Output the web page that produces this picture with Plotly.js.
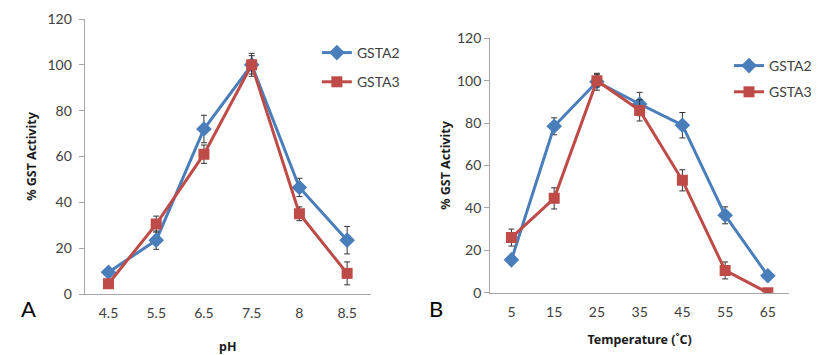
<!DOCTYPE html>
<html>
<head>
<meta charset="utf-8">
<script src="https://cdn.plot.ly/plotly-3.0.1.min.js"></script>
<style>html,body{margin:0;padding:0;background:#fff;}#chart{width:817px;height:355px;}</style>
</head>
<body>
<div id="chart"></div>
<script>
// Panel A: pH
const phLabels = ['4.5', '5.5', '6.5', '7.5', '8', '8.5'];
const phGSTA2 = [9.5, 23.5, 72, 100, 46.5, 23.5];
const phGSTA2Err = [1, 4, 6, 5, 4, 6];
const phGSTA3 = [4.5, 30.5, 61, 100, 35, 9];
const phGSTA3Err = [1, 3.5, 4, 4, 3, 5];

// Panel B: Temperature
const tempLabels = ['5', '15', '25', '35', '45', '55', '65'];
const tGSTA2 = [15.5, 78.5, 99.5, 89, 79, 36.5, 8];
const tGSTA2Err = [1, 4, 4, 5.5, 6, 4, 1];
const tGSTA3 = [26, 44.5, 100, 86, 53, 10.5, 0];
const tGSTA3Err = [4, 5, 3, 5, 5, 4, 0];

const blue = '#4a7ebb';
const red = '#be4b48';
const font = 'Lato, "Open Sans", sans-serif';
const boldFont = '"Noto Sans", "Open Sans", sans-serif';

function series(x, y, err, name, color, symbol, size, xa, ya, legend, group) {
  return {
    type: 'scatter', mode: 'lines+markers',
    x: x, y: y, name: name, xaxis: xa, yaxis: ya,
    legend: legend, legendgroup: group, showlegend: true,
    line: {color: color, width: 3},
    marker: {color: color, symbol: symbol, size: size},
    error_y: {type: 'data', array: err, visible: true, color: '#333333', thickness: 1, width: 3}
  };
}

const data = [
  series(phLabels, phGSTA2, phGSTA2Err, 'GSTA2', blue, 'diamond', 12, 'x', 'y', 'legend', 'a'),
  series(phLabels, phGSTA3, phGSTA3Err, 'GSTA3', red, 'square', 11, 'x', 'y', 'legend', 'b'),
  series(tempLabels, tGSTA2, tGSTA2Err, 'GSTA2', blue, 'diamond', 12, 'x2', 'y2', 'legend2', 'c'),
  series(tempLabels, tGSTA3, tGSTA3Err, 'GSTA3', red, 'square', 11, 'x2', 'y2', 'legend2', 'd')
];

const W = 817, H = 355;
const tickFont = {family: font, size: 14, color: '#404040'};
const titleFont = {family: boldFont, size: 12.5, color: '#1a1a1a', weight: 'bold'};

function yax(domain, anchor, standoff, labStand) {
  return {
    domain: domain, anchor: anchor, range: [0, 120], dtick: 20, tick0: 0,
    showgrid: false, zeroline: false, showline: true, linecolor: '#a6a6a6', linewidth: 1,
    ticks: 'outside', ticklen: 5, tickcolor: '#a6a6a6', tickfont: tickFont,
    ticklabelstandoff: labStand,
    title: {text: '% GST Activity', font: titleFont, standoff: standoff}
  };
}
function xax(domain, anchor, labels, title, standoff) {
  return {
    domain: domain, anchor: anchor, type: 'category', range: [-0.5, labels.length - 0.5],
    showgrid: false, zeroline: false, showline: true, linecolor: '#a6a6a6', linewidth: 1,
    ticks: '', tickfont: tickFont, ticklabelstandoff: 6,
    title: {text: title, font: titleFont, standoff: standoff}
  };
}

const layout = {
  width: W, height: H,
  margin: {l: 0, r: 0, t: 0, b: 0},
  paper_bgcolor: '#ffffff', plot_bgcolor: '#ffffff',
  showlegend: true,
  xaxis: xax([86 / W, 377 / W], 'y', phLabels, 'pH', 22),
  yaxis: yax([1 - 294 / H, 1 - 19 / H], 'x', 8, 4),
  xaxis2: xax([498 / W, 802 / W], 'y2', tempLabels, 'Temperature (˚C)', 16),
  yaxis2: yax([1 - 292.7 / H, 1 - 38.3 / H], 'x2', 3, 0),
  legend: {
    x: 322 / W, y: 1 - 37 / H, xanchor: 'left', yanchor: 'top',
    font: {family: font, size: 14, color: '#404040'},
    traceorder: 'grouped', tracegroupgap: 8, bgcolor: 'rgba(0,0,0,0)', itemwidth: 30
  },
  legend2: {
    x: 741 / W, y: 1 - 50 / H, xanchor: 'left', yanchor: 'top',
    font: {family: font, size: 14, color: '#404040'},
    traceorder: 'grouped', tracegroupgap: 5, bgcolor: 'rgba(0,0,0,0)', itemwidth: 30
  },
  annotations: [
    {text: 'A', xref: 'paper', yref: 'paper', x: 19 / W, y: 1 - 298 / H, yanchor: 'middle', yshift: -10, showarrow: false,
     font: {family: font, size: 22, color: '#000000'}},
    {text: 'B', xref: 'paper', yref: 'paper', x: 443 / W, y: 1 - 298 / H, yanchor: 'middle', yshift: -10, showarrow: false,
     font: {family: font, size: 22, color: '#000000'}}
  ]
};

Plotly.newPlot('chart', data, layout, {displayModeBar: false, staticPlot: true});
</script>
</body>
</html>
